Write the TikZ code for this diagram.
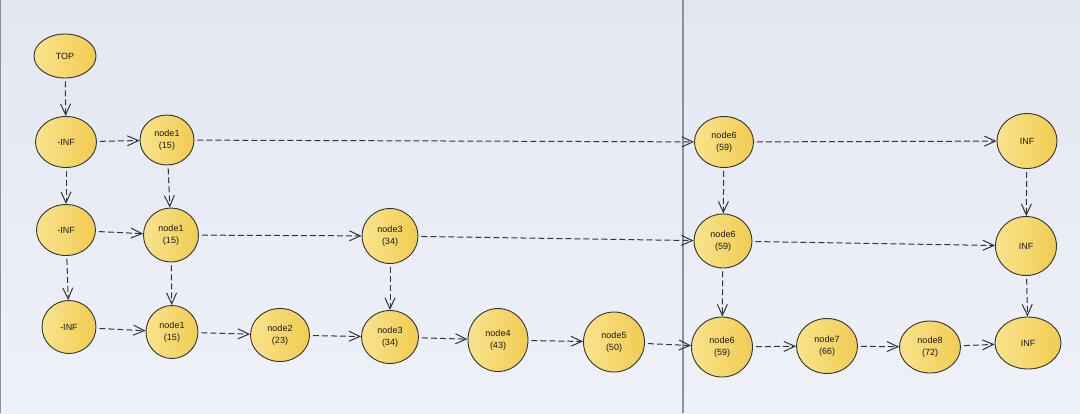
\documentclass[tikz,border=0pt]{standalone}
\usepackage{fontspec}
\setmainfont{Liberation Sans}
\usetikzlibrary{arrows.meta, shapes.geometric}

\definecolor{bgtop}{HTML}{E3E7F1}
\definecolor{bgbot}{HTML}{EEF1F8}
\definecolor{nodeL}{HTML}{F9E38E}
\definecolor{nodeR}{HTML}{F1CC50}
\definecolor{edgegray}{HTML}{33353B}
\definecolor{rulegray}{HTML}{8C9099}

\begin{document}
\begin{tikzpicture}[x=1pt, y=-1pt,
  elem/.style={ellipse, draw=black!80, line width=0.9pt, left color=nodeL, right color=nodeR,
               inner sep=0pt, align=center, font=\fontsize{9}{11.5}\selectfont, text=black!90},
  link/.style={-{Straight Barb[length=11pt, width=10pt]}, dash pattern=on 6pt off 3pt,
               draw=edgegray, line width=1pt, shorten <=3pt}]

  % background and separators
  \useasboundingbox (0,0) rectangle (1080,413);
  \shade[top color=bgtop, bottom color=bgbot] (0,0) rectangle (1080,413);
  \draw[rulegray, line width=1pt] (0.5,0) -- (0.5,413);
  \draw[rulegray, line width=1.2pt] (683,0) -- (683,413);

  \node[elem, minimum width=62pt, minimum height=44pt] (top)   at (65,56)   {TOP};

  % level 1
  \node[elem, minimum width=61pt, minimum height=51pt] (ninfa) at (66,142)  {-INF};
  \node[elem, minimum width=54pt, minimum height=50pt] (n1a)   at (167,140) {node1\\(15)};
  \node[elem, minimum width=59pt, minimum height=51pt] (n6a)   at (724,142) {node6\\(59)};
  \node[elem, minimum width=60pt, minimum height=55pt] (infa)  at (1027,141) {INF};

  % level 2
  \node[elem, minimum width=59pt, minimum height=51pt] (ninfb) at (66,230)  {-INF};
  \node[elem, minimum width=55pt, minimum height=54pt] (n1b)   at (171,235) {node1\\(15)};
  \node[elem, minimum width=56pt, minimum height=55pt] (n3b)   at (390,236) {node3\\(34)};
  \node[elem, minimum width=58pt, minimum height=54pt] (n6b)   at (723,241) {node6\\(59)};
  \node[elem, minimum width=61pt, minimum height=59pt] (infb)  at (1026,246) {INF};

  % level 3
  \node[elem, minimum width=54pt, minimum height=53pt] (ninfc) at (69,327)  {-INF};
  \node[elem, minimum width=52pt, minimum height=53pt] (n1c)   at (172,332) {node1\\(15)};
  \node[elem, minimum width=59pt, minimum height=53pt] (n2)    at (280,335) {node2\\(23)};
  \node[elem, minimum width=57pt, minimum height=53pt] (n3c)   at (390,337) {node3\\(34)};
  \node[elem, minimum width=60pt, minimum height=63pt] (n4)    at (498,340) {node4\\(43)};
  \node[elem, minimum width=61pt, minimum height=60pt] (n5)    at (614,342) {node5\\(50)};
  \node[elem, minimum width=61pt, minimum height=60pt] (n6c)   at (722,347) {node6\\(59)};
  \node[elem, minimum width=61pt, minimum height=55pt] (n7)    at (827,346) {node7\\(66)};
  \node[elem, minimum width=61pt, minimum height=52pt] (n8)    at (930,347) {node8\\(72)};
  \node[elem, minimum width=66pt, minimum height=52pt] (infc)  at (1028,343) {INF};

  % down links
  \draw[link] (top)   -- (ninfa);
  \draw[link] (ninfa) -- (ninfb);
  \draw[link] (ninfb) -- (ninfc);
  \draw[link] (n1a)   -- (n1b);
  \draw[link] (n1b)   -- (n1c);
  \draw[link] (n3b)   -- (n3c);
  \draw[link] (n6a)   -- (n6b);
  \draw[link] (n6b)   -- (n6c);
  \draw[link] (infa)  -- (infb);
  \draw[link] (infb)  -- (infc);

  % forward links
  \draw[link] (ninfa) -- (n1a);
  \draw[link] (n1a)   -- (n6a);
  \draw[link] (n6a)   -- (infa);

  \draw[link] (ninfb) -- (n1b);
  \draw[link] (n1b)   -- (n3b);
  \draw[link] (n3b)   -- (n6b);
  \draw[link] (n6b)   -- (infb);

  \draw[link] (ninfc) -- (n1c);
  \draw[link] (n1c)   -- (n2);
  \draw[link] (n2)    -- (n3c);
  \draw[link] (n3c)   -- (n4);
  \draw[link] (n4)    -- (n5);
  \draw[link] (n5)    -- (n6c);
  \draw[link] (n6c)   -- (n7);
  \draw[link] (n7)    -- (n8);
  \draw[link] (n8)    -- (infc);
\end{tikzpicture}
\end{document}
